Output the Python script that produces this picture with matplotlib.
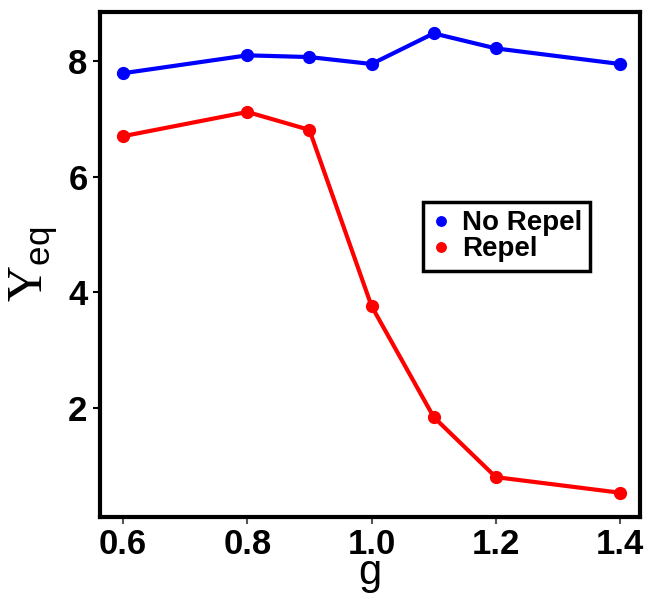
import matplotlib
matplotlib.use("Agg")
import matplotlib.pyplot as plt

g = [0.6, 0.8, 0.9, 1.0, 1.1, 1.2, 1.4]
no_repel = [7.79, 8.10, 8.07, 7.95, 8.48, 8.22, 7.95]
repel = [6.70, 7.12, 6.81, 3.76, 1.84, 0.80, 0.53]
xticks = [0.6, 0.8, 1.0, 1.2, 1.4]
xticklabels = ["0.6", "0.8", "1.0", "1.2", "1.4"]
yticks = [2, 4, 6, 8]

plt.rcParams['font.family'] = ['Liberation Sans', 'DejaVu Sans']
plt.rcParams['mathtext.fontset'] = 'custom'
plt.rcParams['mathtext.rm'] = 'Liberation Serif'
plt.rcParams['mathtext.sf'] = 'Liberation Sans'

fig = plt.figure(figsize=(6.46, 5.96), dpi=100)
ax = fig.add_axes([100/646, 1-517/596, 540/646, 505/596])

ax.plot(g, no_repel, color='#0000ff', lw=3, marker='o', ms=8.5, label='No Repel')
ax.plot(g, repel, color='#ff0000', lw=3, marker='o', ms=8.5, label='Repel')

ax.set_xlim(0.563, 1.432)
ax.set_ylim(0.11, 8.85)
ax.set_xticks(xticks)
ax.set_xticklabels(xticklabels, fontsize=25, fontweight='bold')
ax.set_yticks(yticks)
ax.set_yticklabels([str(v) for v in yticks], fontsize=25, fontweight='bold')
ax.tick_params(axis='x', length=5, width=1.5, color='#555555', pad=3)
ax.tick_params(axis='y', length=5, width=1.5, color='black', pad=4)
for s in ax.spines.values():
    s.set_linewidth(3)

ax.set_xlabel('g', fontsize=30, va='bottom')
ax.xaxis.set_label_coords(0.5, (3 - 79) / 505)
ax.set_ylabel(r'$\mathrm{Y}_{\mathsf{eq}}$', fontsize=36, labelpad=6)

leg = ax.legend(loc='upper left', bbox_to_anchor=(323/540, (517-202)/505), prop={'weight': 'bold', 'size': 20},
                frameon=True, fancybox=False, framealpha=1, borderpad=0.3, labelspacing=0.0, handlelength=0.7,
                handletextpad=0.4, borderaxespad=0, markerscale=0.8)
leg.get_frame().set_edgecolor('black')
leg.get_frame().set_linewidth(2.5)
for h in leg.legend_handles:
    h.set_linestyle('')

fig.savefig('out.png', dpi=100)
